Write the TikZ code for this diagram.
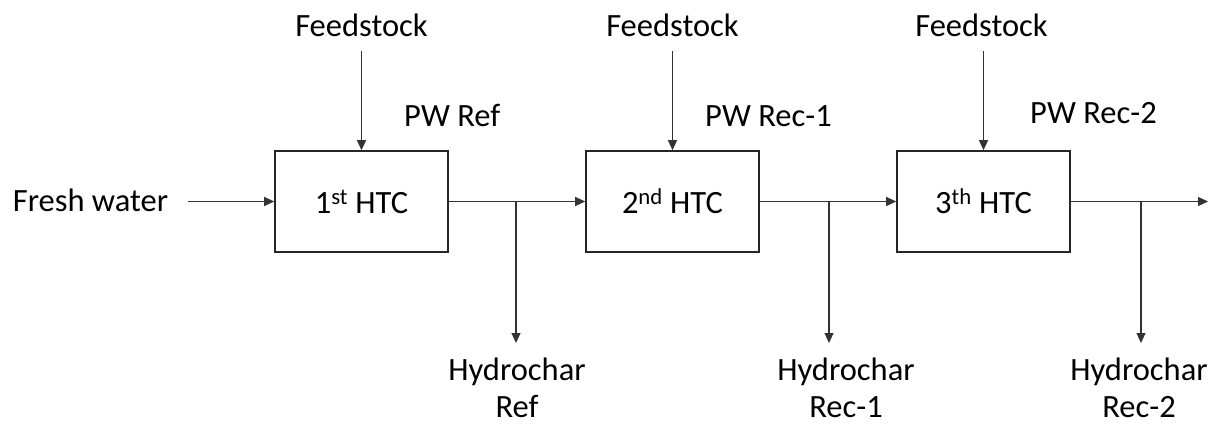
\documentclass[tikz,border=0pt]{standalone}
\usepackage{fontspec}
\setmainfont{Carlito}
\usetikzlibrary{arrows.meta}
\begin{document}
\begin{tikzpicture}[x=1pt,y=-1pt,
  every node/.style={font=\fontsize{32.5}{37}\selectfont, inner sep=0pt},
  htcbox/.style={draw=black!85, line width=1.6pt, minimum width=173pt, minimum height=101pt},
  arr/.style={draw=black!80, line width=1.1pt, -{Triangle[length=10pt,width=9pt]}},
  lbl/.style={align=center}]
\useasboundingbox (0,0) rectangle (1215,423);
% boxes
\node[htcbox] (b1) at (361.5,201.5) {1\textsuperscript{st} HTC};
\node[htcbox] (b2) at (672.5,201.5) {2\textsuperscript{nd} HTC};
\node[htcbox] (b3) at (983.5,201.5) {3\textsuperscript{th} HTC};
% feedstock labels
\node[anchor=base] (f1) at (361.5,36) {Feedstock};
\node[anchor=base] (f2) at (672.5,36) {Feedstock};
\node[anchor=base] (f3) at (981.5,36) {Feedstock};
\coordinate (fs1) at (361.5,51);
\coordinate (fs2) at (672.5,51);
\coordinate (fs3) at (983.5,51);
% PW labels
\node[anchor=base west] (p1) at (404,126) {PW Ref};
\node[anchor=base west] (p2) at (705,126) {PW Rec-1};
\node[anchor=base west] (p3) at (1030,123) {PW Rec-2};
% fresh water
\node[anchor=base] (fw) at (90.5,211) {Fresh water};
\coordinate (fws) at (188,201.5);
% junctions
\coordinate (j1) at (516,201.5);
\coordinate (j2) at (829,201.5);
\coordinate (j3) at (1141,201.5);
\coordinate (e1) at (516,343);
\coordinate (e2) at (829,343);
\coordinate (e3) at (1141,343);
\coordinate (out) at (1208,201.5);
% hydrochar labels
\node[lbl, anchor=base] (h1) at (517,417) {Hydrochar\\Ref};
\node[lbl, anchor=base] (h2) at (846,417) {Hydrochar\\Rec-1};
\node[lbl, anchor=base] (h3) at (1139,417) {Hydrochar\\Rec-2};
% connectors
\draw[arr] (fs1) -- (b1.north);
\draw[arr] (fs2) -- (b2.north);
\draw[arr] (fs3) -- (b3.north);
\draw[arr] (fws) -- (b1.west);
\draw[arr] (b1.east) -- (b2.west);
\draw[arr] (b2.east) -- (b3.west);
\draw[arr] (b3.east) -- (out);
\draw[arr] (j1) -- (e1);
\draw[arr] (j2) -- (e2);
\draw[arr] (j3) -- (e3);
\end{tikzpicture}
\end{document}
